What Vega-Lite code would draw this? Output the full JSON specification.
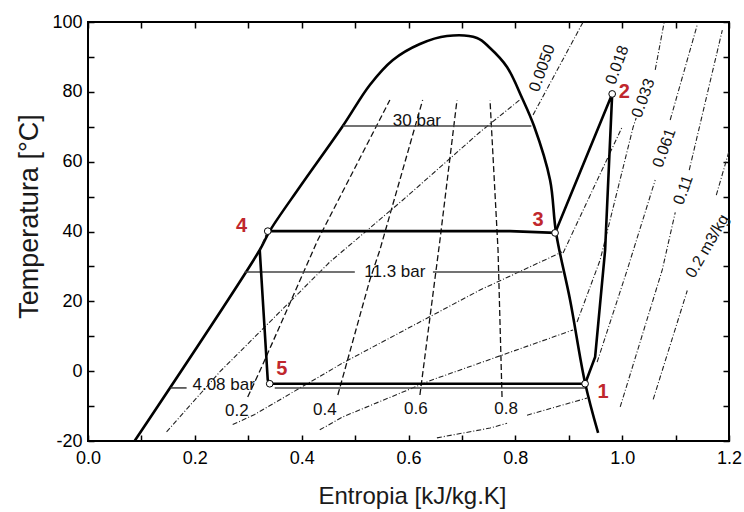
{
  "$schema": "https://vega.github.io/schema/vega-lite/v6.json",
  "width": 641,
  "height": 419,
  "autosize": {"type": "none"},
  "padding": {"left": 88, "top": 22, "right": 15, "bottom": 71},
  "background": "white",
  "config": {
    "view": {"stroke": "#000", "strokeWidth": 2},
    "font": "Liberation Sans",
    "axis": {"grid": false, "domain": false, "tickColor": "#000", "tickWidth": 1.5, "labelColor": "#000", "titleColor": "#1a1a1a", "labelFont": "Liberation Sans", "titleFont": "Liberation Sans"}
  },
  "datasets": {
    "dome": [
      {"i": 1, "s": 0.0872, "T": -20},
      {"i": 2, "s": 0.3215, "T": 34.71},
      {"i": 3, "s": 0.3402, "T": 40.15},
      {"i": 4, "s": 0.3964, "T": 52.75},
      {"i": 5, "s": 0.477, "T": 70.22},
      {"i": 6, "s": 0.5276, "T": 81.97},
      {"i": 7, "s": 0.5708, "T": 89.13},
      {"i": 8, "s": 0.6214, "T": 93.71},
      {"i": 9, "s": 0.672, "T": 96.0},
      {"i": 10, "s": 0.7282, "T": 95.43},
      {"i": 11, "s": 0.7526, "T": 92.56},
      {"i": 12, "s": 0.7844, "T": 87.12},
      {"i": 13, "s": 0.8126, "T": 78.24},
      {"i": 14, "s": 0.835, "T": 70.2},
      {"i": 15, "s": 0.865, "T": 54.76},
      {"i": 16, "s": 0.8763, "T": 39.58},
      {"i": 17, "s": 0.9025, "T": 20.39},
      {"i": 18, "s": 0.9306, "T": -3.38},
      {"i": 19, "s": 0.955, "T": -17.7}
    ],
    "cycle": [
      {"id": "c1", "i": 1, "s": 0.9306, "T": -3.6},
      {"id": "c1", "i": 2, "s": 0.9494, "T": 4.1},
      {"id": "c1", "i": 3, "s": 0.9681, "T": 34.7},
      {"id": "c1", "i": 4, "s": 0.9813, "T": 79.4},
      {"id": "c1", "i": 5, "s": 0.8744, "T": 39.6},
      {"id": "c1", "i": 6, "s": 0.7901, "T": 40.1},
      {"id": "c1", "i": 7, "s": 0.3365, "T": 40.1},
      {"id": "c2", "i": 1, "s": 0.3215, "T": 34.7},
      {"id": "c2", "i": 2, "s": 0.3365, "T": -2.5},
      {"id": "c2", "i": 3, "s": 0.3402, "T": -3.6},
      {"id": "c2", "i": 4, "s": 0.9306, "T": -3.6}
    ],
    "press": [
      {"id": "p30", "i": 1, "s": 0.477, "T": 70.2},
      {"id": "p30", "i": 2, "s": 0.83, "T": 70.2},
      {"id": "p11a", "i": 1, "s": 0.2933, "T": 28.4},
      {"id": "p11a", "i": 2, "s": 0.4995, "T": 28.4},
      {"id": "p11b", "i": 1, "s": 0.6457, "T": 28.4},
      {"id": "p11b", "i": 2, "s": 0.8879, "T": 28.4},
      {"id": "p4a", "i": 1, "s": 0.1546, "T": -4.8},
      {"id": "p4a", "i": 2, "s": 0.1846, "T": -4.8},
      {"id": "p4b", "i": 1, "s": 0.3496, "T": -4.8},
      {"id": "p4b", "i": 2, "s": 0.9306, "T": -4.8}
    ],
    "quality": [
      {"id": "q2", "i": 1, "s": 0.299, "T": -7.39},
      {"id": "q2", "i": 2, "s": 0.3252, "T": 1.2},
      {"id": "q2", "i": 3, "s": 0.4302, "T": 37.57},
      {"id": "q2", "i": 4, "s": 0.5651, "T": 77.66},
      {"id": "q4", "i": 1, "s": 0.4677, "T": -6.82},
      {"id": "q4", "i": 2, "s": 0.5276, "T": 26.12},
      {"id": "q4", "i": 3, "s": 0.5464, "T": 34.71},
      {"id": "q4", "i": 4, "s": 0.6265, "T": 77.66},
      {"id": "q6", "i": 1, "s": 0.6214, "T": -6.82},
      {"id": "q6", "i": 2, "s": 0.6589, "T": 37.57},
      {"id": "q6", "i": 3, "s": 0.6908, "T": 77.66},
      {"id": "q8", "i": 1, "s": 0.7751, "T": -7.39},
      {"id": "q8", "i": 2, "s": 0.7676, "T": 34.71},
      {"id": "q8", "i": 3, "s": 0.7526, "T": 77.66},
      {"id": "c3", "i": 1, "s": 0.3365, "T": 40.1},
      {"id": "c3", "i": 2, "s": 0.3215, "T": 34.7}
    ],
    "iso": [
      {"id": "S1", "i": 1, "s": 0.1471, "T": -17.4},
      {"id": "S1", "i": 2, "s": 0.2465, "T": -0.23},
      {"id": "S1", "i": 3, "s": 0.4527, "T": 31.27},
      {"id": "S1", "i": 4, "s": 0.5895, "T": 49.03},
      {"id": "S1", "i": 5, "s": 0.7339, "T": 68.5},
      {"id": "S1", "i": 6, "s": 0.8126, "T": 78.24},
      {"id": "S1b", "i": 1, "s": 0.8332, "T": 73.4},
      {"id": "S1b", "i": 2, "s": 0.9269, "T": 100},
      {"id": "S2", "i": 1, "s": 0.2709, "T": -15.3},
      {"id": "S2", "i": 2, "s": 0.3121, "T": -12.4},
      {"id": "S2", "i": 3, "s": 0.477, "T": 2.35},
      {"id": "S2", "i": 4, "s": 0.7339, "T": 23.25},
      {"id": "S2", "i": 5, "s": 0.8875, "T": 34.14},
      {"id": "S2b", "i": 1, "s": 0.8894, "T": 33.85},
      {"id": "S2b", "i": 2, "s": 1.0, "T": 69.94},
      {"id": "S3", "i": 1, "s": 0.4339, "T": -16.8},
      {"id": "S3", "i": 2, "s": 0.477, "T": -13.1},
      {"id": "S3", "i": 3, "s": 0.6439, "T": -2.52},
      {"id": "S3", "i": 4, "s": 0.9081, "T": 11.8},
      {"id": "S3b", "i": 1, "s": 0.9156, "T": 14.09},
      {"id": "S3b", "i": 2, "s": 0.9588, "T": 31.85},
      {"id": "S3b", "i": 3, "s": 1.0206, "T": 69.94},
      {"id": "S3b", "i": 4, "s": 1.0262, "T": 72.5},
      {"id": "S3c", "i": 1, "s": 1.0619, "T": 86.3},
      {"id": "S3c", "i": 2, "s": 1.0787, "T": 100},
      {"id": "S4", "i": 1, "s": 0.6532, "T": -19.1},
      {"id": "S4", "i": 2, "s": 0.7526, "T": -16.3},
      {"id": "S4", "i": 3, "s": 0.7845, "T": -14.9},
      {"id": "S5", "i": 1, "s": 0.8219, "T": -12.6},
      {"id": "S5", "i": 2, "s": 0.9344, "T": -7.7},
      {"id": "S6", "i": 1, "s": 0.9531, "T": 2.58},
      {"id": "S6", "i": 2, "s": 1.0094, "T": 28.98},
      {"id": "S6", "i": 3, "s": 1.0619, "T": 54.76},
      {"id": "S6b", "i": 1, "s": 1.0899, "T": 71.94},
      {"id": "S6b", "i": 2, "s": 1.1406, "T": 99.2},
      {"id": "S7", "i": 1, "s": 0.9963, "T": -10.25},
      {"id": "S7", "i": 2, "s": 1.075, "T": 28.98},
      {"id": "S7", "i": 3, "s": 1.0994, "T": 45.5},
      {"id": "S7b", "i": 1, "s": 1.1256, "T": 57.6},
      {"id": "S7b", "i": 2, "s": 1.1875, "T": 97.7},
      {"id": "S8", "i": 1, "s": 1.0581, "T": -8.08},
      {"id": "S8", "i": 2, "s": 1.1219, "T": 23.1},
      {"id": "S8b", "i": 1, "s": 1.1762, "T": 50.4},
      {"id": "S8b", "i": 2, "s": 1.2006, "T": 63.3}
    ],
    "states": [
      {"n": "1", "s": 0.9306, "T": -3.6, "ls": 0.9644, "lT": -5.96},
      {"n": "2", "s": 0.9813, "T": 79.4, "ls": 1.0038, "lT": 79.96},
      {"n": "3", "s": 0.8744, "T": 39.6, "ls": 0.8425, "lT": 43.3},
      {"n": "4", "s": 0.3365, "T": 40.1, "ls": 0.2877, "lT": 41.58},
      {"n": "5", "s": 0.3402, "T": -3.6, "ls": 0.3627, "lT": 0.63}
    ],
    "flatlabels": [
      {"t": "30 bar", "s": 0.6157, "T": 71.65},
      {"t": "11.3 bar", "s": 0.5745, "T": 28.4},
      {"t": "4.08 bar", "s": 0.254, "T": -3.95},
      {"t": "0.2", "s": 0.2787, "T": -11.3},
      {"t": "0.4", "s": 0.4433, "T": -11.2},
      {"t": "0.6", "s": 0.6139, "T": -10.97},
      {"t": "0.8", "s": 0.7826, "T": -10.97}
    ],
    "isolabels": [
      {"t": "0.0050", "s": 0.8501, "T": 86.8},
      {"t": "0.018", "s": 0.9907, "T": 87.7},
      {"t": "0.033", "s": 1.0394, "T": 78.2},
      {"t": "0.061", "s": 1.0787, "T": 63.9},
      {"t": "0.11", "s": 1.1144, "T": 51.9}
    ],
    "unitlabel": [
      {"t": "0.2 m3/kg", "s": 1.1594, "T": 35.8}
    ]
  },
  "layer": [
    {
      "data": {"name": "dome"},
      "mark": {"type": "line", "color": "#000", "strokeWidth": 2.6, "interpolate": "catmull-rom", "clip": true},
      "encoding": {
        "x": {"field": "s", "type": "quantitative", "scale": {"domain": [0, 1.2], "nice": false, "zero": false},
          "axis": {"orient": "bottom", "values": [0, 0.1, 0.2, 0.3, 0.4, 0.5, 0.6, 0.7, 0.8, 0.9, 1.0, 1.1, 1.2],
            "labelExpr": "round(datum.value*10) % 2 === 0 ? format(datum.value, '.1f') : ''",
            "tickSize": -6, "labelPadding": 14, "labelFontSize": 18, "labelFlush": false,
            "title": "Entropia [kJ/kg.K]", "titleFontSize": 24, "titleFontWeight": "normal",
            "titleX": 324, "titleY": 55, "titleBaseline": "middle", "titleAlign": "center"}},
        "y": {"field": "T", "type": "quantitative", "scale": {"domain": [-20, 100], "nice": false, "zero": false},
          "axis": {"orient": "left", "values": [-20, -10, 0, 10, 20, 30, 40, 50, 60, 70, 80, 90, 100],
            "labelExpr": "datum.value % 20 === 0 ? '' + datum.value : ''",
            "tickSize": -6, "labelPadding": 12, "labelFontSize": 18, "labelFlush": false,
            "title": "Temperatura [°C]", "titleFontSize": 27, "titleFontWeight": "normal",
            "titleAngle": -90, "titleX": -59, "titleY": 194, "titleBaseline": "middle", "titleAlign": "center"}},
        "order": {"field": "i", "type": "quantitative"}
      }
    },
    {
      "data": {"name": "iso"},
      "mark": {"type": "line", "color": "#222", "strokeWidth": 1.1, "strokeDash": [5, 2, 1, 2], "clip": true},
      "encoding": {
        "x": {"field": "s", "type": "quantitative",
          "axis": {"orient": "top", "values": [0, 0.1, 0.2, 0.3, 0.4, 0.5, 0.6, 0.7, 0.8, 0.9, 1.0, 1.1, 1.2], "labels": false, "tickSize": -6, "title": null}},
        "y": {"field": "T", "type": "quantitative",
          "axis": {"orient": "right", "values": [-20, -10, 0, 10, 20, 30, 40, 50, 60, 70, 80, 90, 100], "labels": false, "tickSize": -6, "title": null}},
        "detail": {"field": "id"},
        "order": {"field": "i", "type": "quantitative"}
      }
    },
    {
      "data": {"name": "quality"},
      "mark": {"type": "line", "color": "#111", "strokeWidth": 1.3, "strokeDash": [6, 3], "clip": true},
      "encoding": {
        "x": {"field": "s", "type": "quantitative", "axis": null},
        "y": {"field": "T", "type": "quantitative", "axis": null},
        "detail": {"field": "id"},
        "order": {"field": "i", "type": "quantitative"}
      }
    },
    {
      "data": {"name": "press"},
      "mark": {"type": "line", "color": "#444", "strokeWidth": 1.6, "clip": true},
      "encoding": {
        "x": {"field": "s", "type": "quantitative", "axis": null},
        "y": {"field": "T", "type": "quantitative", "axis": null},
        "detail": {"field": "id"},
        "order": {"field": "i", "type": "quantitative"}
      }
    },
    {
      "data": {"name": "cycle"},
      "mark": {"type": "line", "color": "#000", "strokeWidth": 2.6, "clip": true},
      "encoding": {
        "x": {"field": "s", "type": "quantitative", "axis": null},
        "y": {"field": "T", "type": "quantitative", "axis": null},
        "detail": {"field": "id"},
        "order": {"field": "i", "type": "quantitative"}
      }
    },
    {
      "data": {"name": "states"},
      "mark": {"type": "point", "filled": true, "fill": "white", "stroke": "#000", "strokeWidth": 1, "size": 45, "opacity": 1},
      "encoding": {
        "x": {"field": "s", "type": "quantitative", "axis": null},
        "y": {"field": "T", "type": "quantitative", "axis": null}
      }
    },
    {
      "data": {"name": "states"},
      "mark": {"type": "text", "color": "#c0272d", "fontSize": 20, "fontWeight": "bold", "font": "Liberation Sans"},
      "encoding": {
        "x": {"field": "ls", "type": "quantitative", "axis": null},
        "y": {"field": "lT", "type": "quantitative", "axis": null},
        "text": {"field": "n"}
      }
    },
    {
      "data": {"name": "flatlabels"},
      "mark": {"type": "text", "color": "#111", "fontSize": 17, "font": "Liberation Sans"},
      "encoding": {
        "x": {"field": "s", "type": "quantitative", "axis": null},
        "y": {"field": "T", "type": "quantitative", "axis": null},
        "text": {"field": "t"}
      }
    },
    {
      "data": {"name": "isolabels"},
      "mark": {"type": "text", "color": "#111", "fontSize": 16, "angle": 290, "font": "Liberation Sans"},
      "encoding": {
        "x": {"field": "s", "type": "quantitative", "axis": null},
        "y": {"field": "T", "type": "quantitative", "axis": null},
        "text": {"field": "t"}
      }
    },
    {
      "data": {"name": "unitlabel"},
      "mark": {"type": "text", "color": "#111", "fontSize": 16, "angle": 300, "font": "Liberation Sans"},
      "encoding": {
        "x": {"field": "s", "type": "quantitative", "axis": null},
        "y": {"field": "T", "type": "quantitative", "axis": null},
        "text": {"field": "t"}
      }
    }
  ],
  "resolve": {"axis": {"x": "independent", "y": "independent"}}
}
